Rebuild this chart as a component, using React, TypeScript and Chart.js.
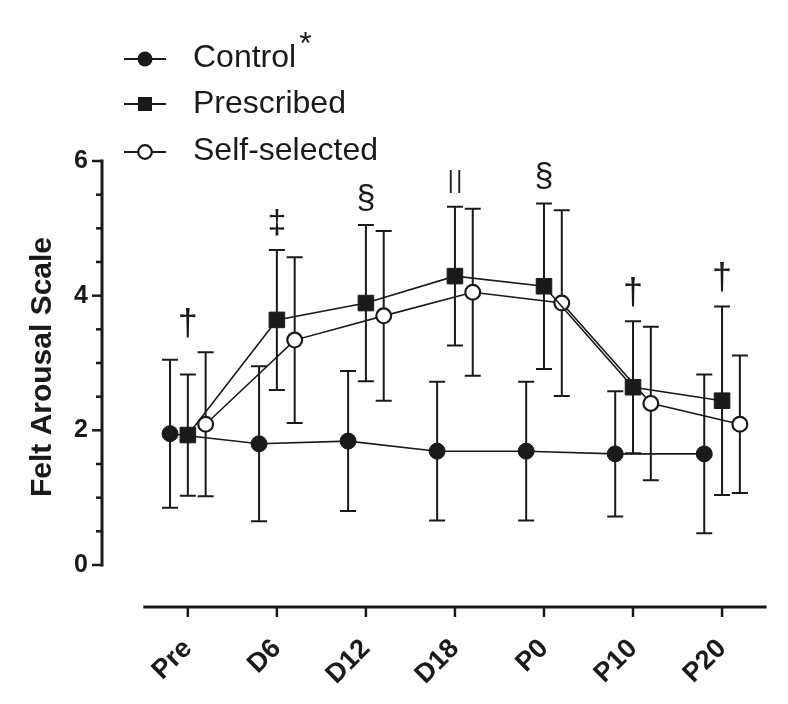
import React, { useEffect, useRef } from "react";
import { Chart, registerables } from "chart.js";

Chart.register(...registerables);

const categories = ["Pre", "D6", "D12", "D18", "P0", "P10", "P20"];
const seriesNames = ["Control", "Prescribed", "Self-selected"];
const controlMean = [1.95, 1.8, 1.84, 1.69, 1.69, 1.65, 1.65];
const controlSD = [1.1, 1.15, 1.04, 1.03, 1.03, 0.93, 1.18];
const prescribedMean = [1.93, 3.64, 3.89, 4.29, 4.14, 2.64, 2.44];
const prescribedSD = [0.9, 1.04, 1.16, 1.03, 1.23, 0.98, 1.4];
const selfMean = [2.09, 3.34, 3.7, 4.05, 3.89, 2.4, 2.09];
const selfSD = [1.07, 1.23, 1.26, 1.24, 1.38, 1.14, 1.02];
const annotations = ["†", "‡", "§", "||", "§", "†", "†"];
const yTicks = [0, 2, 4, 6];
const yMinorStep = 0.5;
const groupOffsets = [-0.2, 0, 0.2];

const INK = "#1a1a1a";
const FONT = "'Liberation Sans', Arial, Helvetica, sans-serif";
const means = [controlMean, prescribedMean, selfMean];
const sds = [controlSD, prescribedSD, selfSD];

function annotationFont(a: string) {
  if (a === "†") return `36px ${FONT}`;
  if (a === "||") return `23px ${FONT}`;
  return `34px ${FONT}`;
}

const customPlugin = {
  id: "customDraw",
  beforeDatasetsDraw(chart: any) {
    const { ctx, chartArea } = chart;
    const xs = chart.scales.x;
    const ys = chart.scales.y;
    ctx.save();
    ctx.strokeStyle = INK;
    ctx.lineCap = "butt";
    // y axis line
    const ax = chartArea.left;
    const yTop = ys.getPixelForValue(yTicks[yTicks.length - 1]);
    const yBot = ys.getPixelForValue(yTicks[0]);
    ctx.lineWidth = 3;
    ctx.beginPath();
    ctx.moveTo(ax, yBot + 1.5);
    ctx.lineTo(ax, yTop - 1.5);
    ctx.stroke();
    // y ticks
    ctx.lineWidth = 2.5;
    for (let v = yTicks[0]; v <= yTicks[yTicks.length - 1] + 1e-9; v += yMinorStep) {
      const major = yTicks.some((t) => Math.abs(t - v) < 1e-9);
      const py = ys.getPixelForValue(v);
      ctx.beginPath();
      ctx.moveTo(ax, py);
      ctx.lineTo(ax - (major ? 10 : 6), py);
      ctx.stroke();
    }
    // x axis line
    const by = chartArea.bottom;
    ctx.lineWidth = 3;
    ctx.beginPath();
    ctx.moveTo(xs.getPixelForValue(-0.5), by);
    ctx.lineTo(xs.getPixelForValue(categories.length - 0.5), by);
    ctx.stroke();
    ctx.lineWidth = 2.5;
    categories.forEach((_, i) => {
      const px = xs.getPixelForValue(i);
      ctx.beginPath();
      ctx.moveTo(px, by);
      ctx.lineTo(px, by + 10);
      ctx.stroke();
    });
    // error bars
    ctx.lineWidth = 2;
    means.forEach((m, s) => {
      m.forEach((val, i) => {
        const px = xs.getPixelForValue(i + groupOffsets[s]);
        const t = ys.getPixelForValue(val + sds[s][i]);
        const b = ys.getPixelForValue(val - sds[s][i]);
        ctx.beginPath();
        ctx.moveTo(px, t);
        ctx.lineTo(px, b);
        ctx.moveTo(px - 8, t);
        ctx.lineTo(px + 8, t);
        ctx.moveTo(px - 8, b);
        ctx.lineTo(px + 8, b);
        ctx.stroke();
      });
    });
    ctx.restore();
  },
  afterDraw(chart: any) {
    const { ctx } = chart;
    const xs = chart.scales.x;
    const ys = chart.scales.y;
    ctx.save();
    // annotations
    ctx.fillStyle = INK;
    ctx.textAlign = "center";
    ctx.textBaseline = "alphabetic";
    annotations.forEach((a, i) => {
      let top = Infinity;
      means.forEach((m, s) => {
        top = Math.min(top, ys.getPixelForValue(m[i] + sds[s][i]));
      });
      ctx.font = annotationFont(a);
      (ctx as any).letterSpacing = a === "||" ? "2.5px" : "0px";
      const desc = ctx.measureText(a).actualBoundingBoxDescent || 0;
      const dx = a === "||" ? 1.25 : 0;
      ctx.fillText(a, xs.getPixelForValue(i) + dx, top - 14 - desc);
    });
    (ctx as any).letterSpacing = "0px";
    // legend
    const rowY = [51, 96, 144];
    const textY = [59, 105, 152];
    const lx0 = 116, lx1 = 158, mx = 137, tx = 185;
    ctx.textAlign = "left";
    seriesNames.forEach((name, s) => {
      const y = rowY[s];
      ctx.strokeStyle = INK;
      ctx.lineWidth = 2;
      ctx.beginPath();
      ctx.moveTo(lx0, y);
      ctx.lineTo(lx1, y);
      ctx.stroke();
      if (s === 0) {
        ctx.fillStyle = INK;
        ctx.beginPath();
        ctx.arc(mx, y, 7.5, 0, Math.PI * 2);
        ctx.fill();
      } else if (s === 1) {
        ctx.fillStyle = INK;
        ctx.fillRect(mx - 7, y - 7, 14, 14);
      } else {
        ctx.fillStyle = "#ffffff";
        ctx.lineWidth = 2.2;
        ctx.beginPath();
        ctx.arc(mx, y, 6.8, 0, Math.PI * 2);
        ctx.fill();
        ctx.stroke();
      }
      ctx.fillStyle = INK;
      ctx.font = `32px ${FONT}`;
      ctx.fillText(name, tx, textY[s]);
      if (s === 0) {
        const w = ctx.measureText(name).width;
        ctx.fillText("*", tx + w + 3, 46);
      }
    });
    ctx.restore();
  },
};

export default function App() {
  const ref = useRef<HTMLCanvasElement | null>(null);
  useEffect(() => {
    if (!ref.current) return;
    const chart = new Chart(ref.current, {
      type: "line",
      data: {
        datasets: [
          {
            label: seriesNames[0],
            data: controlMean.map((v, i) => ({ x: i + groupOffsets[0], y: v })),
            borderColor: INK,
            borderWidth: 1.6,
            pointStyle: "circle",
            pointRadius: 8,
            pointBackgroundColor: INK,
            pointBorderColor: INK,
            pointBorderWidth: 1,
            fill: false,
            tension: 0,
          },
          {
            label: seriesNames[1],
            data: prescribedMean.map((v, i) => ({ x: i + groupOffsets[1], y: v })),
            borderColor: INK,
            borderWidth: 1.6,
            pointStyle: "rect",
            pointRadius: 11,
            pointBackgroundColor: INK,
            pointBorderColor: INK,
            pointBorderWidth: 1,
            fill: false,
            tension: 0,
          },
          {
            label: seriesNames[2],
            data: selfMean.map((v, i) => ({ x: i + groupOffsets[2], y: v })),
            borderColor: INK,
            borderWidth: 1.6,
            pointStyle: "circle",
            pointRadius: 7.4,
            pointBackgroundColor: "#ffffff",
            pointBorderColor: INK,
            pointBorderWidth: 2.2,
            fill: false,
            tension: 0,
          },
        ],
      },
      options: {
        animation: false,
        responsive: false,
        layout: { padding: { top: 153, right: 11, left: 0, bottom: 0 } },
        plugins: { legend: { display: false }, tooltip: { enabled: false } },
        scales: {
          x: {
            type: "linear",
            min: -0.964,
            max: 6.516,
            grid: { display: false, drawTicks: false },
            border: { display: false },
            afterBuildTicks: (s: any) => {
              s.ticks = categories.map((_, i) => ({ value: i }));
            },
            afterFit: (s: any) => {
              s.height = 89;
            },
            ticks: {
              autoSkip: false,
              minRotation: 45,
              maxRotation: 45,
              padding: 26,
              color: INK,
              font: { family: FONT, size: 27, weight: "bold" },
              callback: (v: any) => categories[Math.round(Number(v))] ?? "",
            },
          },
          y: {
            type: "linear",
            min: -0.624,
            max: 6,
            grid: { display: false, drawTicks: false },
            border: { display: false },
            afterBuildTicks: (s: any) => {
              s.ticks = yTicks.map((v) => ({ value: v }));
            },
            afterFit: (s: any) => {
              s.width = 94;
            },
            title: { display: false },
            ticks: {
              padding: 14,
              color: INK,
              font: { family: FONT, size: 25, weight: "bold" },
              callback: (v: any) => String(v),
            },
          },
        },
      },
      plugins: [
        customPlugin,
        {
          id: "yTitle",
          afterDraw(chart: any) {
            const { ctx } = chart;
            const ys = chart.scales.y;
            ctx.save();
            ctx.fillStyle = INK;
            ctx.font = `bold 30px ${FONT}`;
            ctx.textAlign = "center";
            ctx.textBaseline = "middle";
            ctx.translate(35, (ys.getPixelForValue(0) + ys.getPixelForValue(6)) / 2 + 4);
            ctx.rotate(-Math.PI / 2);
            ctx.fillText("Felt Arousal Scale", 0, 0);
            ctx.restore();
          },
        },
      ],
    } as any);
    return () => chart.destroy();
  }, []);
  return (
    <div style={{ width: 772, height: 688 }}>
      <canvas ref={ref} width={772} height={688} style={{ display: "block" }} />
    </div>
  );
}
